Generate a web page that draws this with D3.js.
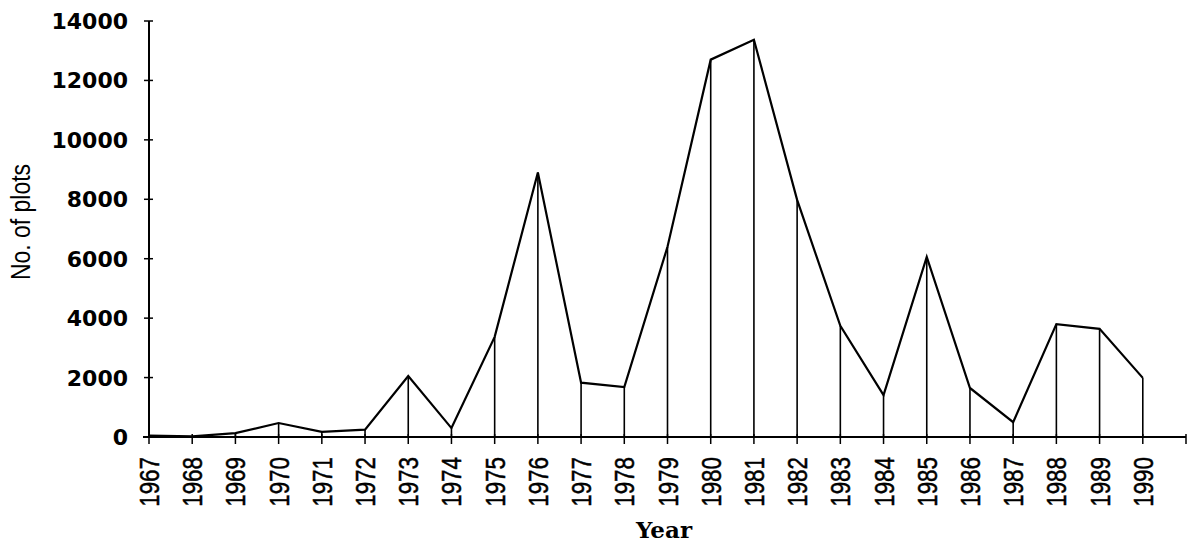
<!DOCTYPE html>
<html>
<head>
<meta charset="utf-8">
<style>
body { margin: 0; background: #fff; }
.ylab { font-family: "DejaVu Sans", sans-serif; font-weight: bold; font-size: 22px; }
.xlab { font-family: "Liberation Sans", Arial, sans-serif; font-size: 28px; stroke: #000; stroke-width: 0.5px; }
</style>
</head>
<body>
<script src="https://cdn.jsdelivr.net/npm/d3@7"></script>
<script>
var years = [1967, 1968, 1969, 1970, 1971, 1972, 1973, 1974, 1975, 1976, 1977, 1978,
             1979, 1980, 1981, 1982, 1983, 1984, 1985, 1986, 1987, 1988, 1989, 1990];
var plots = [50, 20, 130, 470, 170, 250, 2050, 300, 3370, 8900, 1830, 1680,
             6400, 12700, 13370, 7980, 3740, 1410, 6060, 1650, 500, 3800, 3640, 1990];
var yTicks = [0, 2000, 4000, 6000, 8000, 10000, 12000, 14000];

var width = 1196, height = 548;
var svg = d3.select("body").append("svg")
    .attr("width", width)
    .attr("height", height);

var x = d3.scaleLinear().domain([1967, 1991]).range([149, 1186]);
var y = d3.scaleLinear().domain([0, 14000]).range([437, 21]);

var data = years.map(function(d, i) { return {year: d, v: plots[i]}; });

// drop lines
svg.selectAll(".drop")
    .data(data)
    .enter().append("line")
    .attr("x1", function(d) { return x(d.year); })
    .attr("x2", function(d) { return x(d.year); })
    .attr("y1", y(0))
    .attr("y2", function(d) { return y(d.v); })
    .attr("stroke", "#000")
    .attr("stroke-width", 1.6);

// the line
var line = d3.line()
    .x(function(d) { return x(d.year); })
    .y(function(d) { return y(d.v); });

svg.append("path")
    .datum(data)
    .attr("d", line)
    .attr("fill", "none")
    .attr("stroke", "#000")
    .attr("stroke-width", 2.2);

// y axis
svg.append("line")
    .attr("x1", x(1967)).attr("x2", x(1967))
    .attr("y1", y(0)).attr("y2", y(14000))
    .attr("stroke", "#000").attr("stroke-width", 2);

svg.selectAll(".ytick")
    .data(yTicks)
    .enter().append("line")
    .attr("x1", x(1967) - 5).attr("x2", x(1967) + 4)
    .attr("y1", y).attr("y2", y)
    .attr("stroke", "#000").attr("stroke-width", 1.5);

svg.selectAll(".ylab")
    .data(yTicks)
    .enter().append("text")
    .attr("class", "ylab")
    .attr("x", 128)
    .attr("y", function(d) { return y(d) + 8; })
    .attr("text-anchor", "end")
    .text(function(d) { return d; });

// x axis
svg.append("line")
    .attr("x1", 143).attr("x2", x(1991))
    .attr("y1", y(0)).attr("y2", y(0))
    .attr("stroke", "#000").attr("stroke-width", 2.2);

svg.selectAll(".xtick")
    .data(years.concat([1991]))
    .enter().append("line")
    .attr("x1", x).attr("x2", x)
    .attr("y1", y(0) - 3).attr("y2", y(0) + 7)
    .attr("stroke", "#000").attr("stroke-width", 1.5);

// narrow, tall tick labels
svg.selectAll(".xlab")
    .data(years)
    .enter().append("text")
    .attr("class", "xlab")
    .attr("transform", function(d) { return "translate(" + (x(d) + 10) + "," + 457 + ") rotate(-90) scale(0.8,1)"; })
    .attr("text-anchor", "end")
    .text(function(d) { return d; });

// axis titles
svg.append("text")
    .attr("x", 664)
    .attr("y", 538)
    .attr("text-anchor", "middle")
    .attr("font-family", "'DejaVu Serif', serif")
    .attr("font-weight", "bold")
    .attr("font-size", 23)
    .text("Year");

svg.append("text")
    .attr("transform", "translate(30,222) rotate(-90) scale(0.85,1)")
    .attr("text-anchor", "middle")
    .attr("font-family", "'Liberation Sans', Arial, sans-serif")
    .attr("font-size", 27)
    .text("No. of plots");
</script>
</body>
</html>
